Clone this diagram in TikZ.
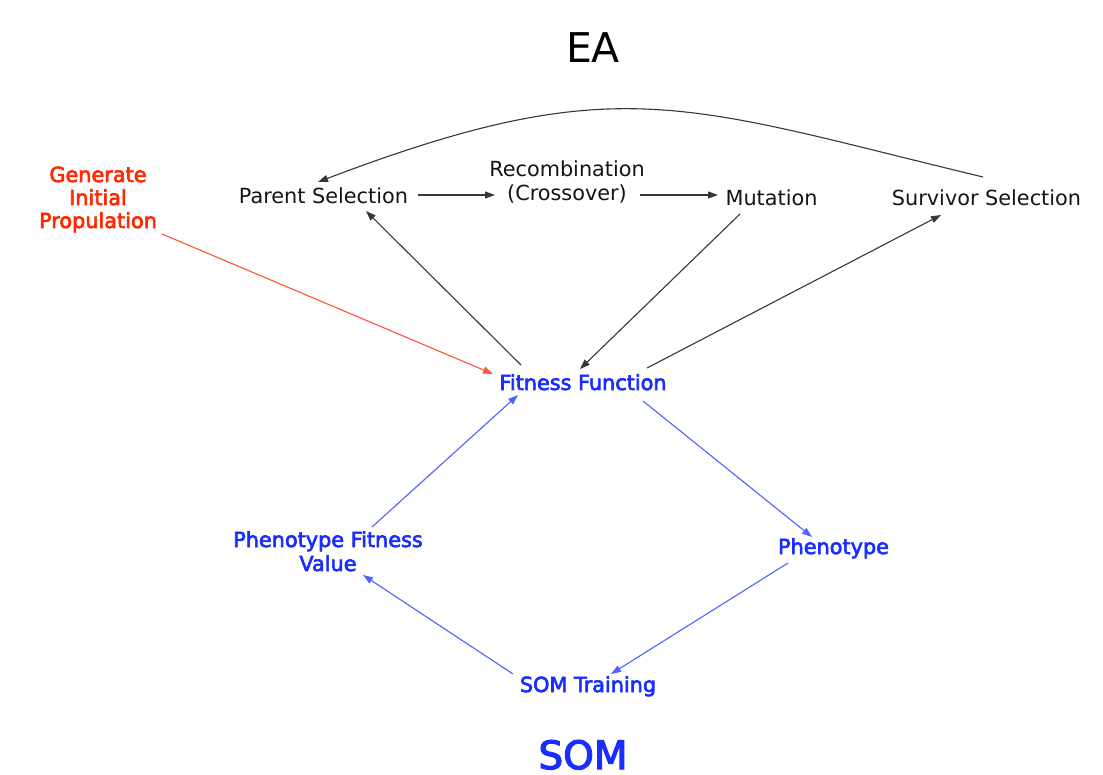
\documentclass[tikz,border=0pt]{standalone}
\usepackage{fontspec}
\setmainfont{DejaVu Sans}
\newfontfamily\fakebold{DejaVu Sans}[FakeBold=3]
\usetikzlibrary{arrows.meta}
\definecolor{eablack}{RGB}{20,20,20}
\definecolor{eagray}{RGB}{55,55,55}
\definecolor{somblue}{RGB}{25,45,255}
\definecolor{somline}{RGB}{80,100,255}
\definecolor{genred}{RGB}{255,40,0}
\definecolor{genline}{RGB}{255,85,55}
\tikzset{
  lbl/.style={inner sep=0pt, anchor=base, align=center, font=\fontsize{20.8}{24}\selectfont, text=eablack},
  somlbl/.style={lbl, font=\fontsize{20.8}{24}\selectfont\fakebold, text=somblue},
  genlbl/.style={lbl, font=\fontsize{20.8}{23}\selectfont\fakebold, text=genred},
  title/.style={inner sep=0pt, anchor=base, font=\fontsize{41}{45}\selectfont},
  tip/.style={-{Triangle[length=10pt,width=7pt]}},
  blackarrow/.style={tip, draw=eagray, line width=1.1pt},
  bluearrow/.style={tip, draw=somline, fill=somline, line width=1.1pt},
  redarrow/.style={tip, draw=genline, line width=1.1pt}
}
\begin{document}
\begin{tikzpicture}[x=1pt,y=-1pt]
\useasboundingbox (0,0) rectangle (1103,775);
\fill[white] (0,0) rectangle (1103,775);

\node[title, text=black] (ea) at (593,63) {EA};
\node[title, text=somblue, font=\fontsize{39}{42}\selectfont\fakebold] (som) at (583,769) {SOM};

% multi-line nodes: base anchor = baseline of last line
\node[genlbl] (gen) at (98,228) {Generate\\Initial\\Propulation};
\node[lbl] (ps) at (323.5,204) {Parent Selection};
\node[lbl] (rc) at (567,201) {Recombination\\(Crossover)};
\node[lbl] (mut) at (771.5,206) {Mutation};
\node[lbl] (ss) at (986.5,206) {Survivor Selection};
\node[somlbl] (ff) at (583,390) {Fitness Function};
\node[somlbl] (pfv) at (328,571) {Phenotype Fitness\\Value};
\node[somlbl] (ph) at (833.5,554) {Phenotype};
\node[somlbl] (somt) at (588,692) {SOM Training};

% EA cycle
\draw[blackarrow] ([shift={(94.5,-9)}]ps.base) -- ([shift={(-72,-6)}]rc.base);
\draw[blackarrow] ([shift={(73,-6)}]rc.base) -- ([shift={(-53.5,-11)}]mut.base);
\draw[blackarrow] ([shift={(-62,-25)}]ff.base) -- ([shift={(42.5,7)}]ps.base);
\draw[blackarrow] ([shift={(-31.5,8)}]mut.base) -- ([shift={(-3,-21)}]ff.base);
\draw[blackarrow] ([shift={(64,-22)}]ff.base) -- ([shift={(-45.5,9)}]ss.base);
\draw[blackarrow] ([shift={(-3.5,-29)}]ss.base) .. controls (683,105) and (618,68) .. ([shift={(-5.5,-22)}]ps.base);

% initialisation
\draw[redarrow] ([shift={(64,6)}]gen.base) -- ([shift={(-90,-16)}]ff.base);

% SOM cycle
\draw[bluearrow] ([shift={(60,11)}]ff.base) -- ([shift={(-21.5,-17)}]ph.base);
\draw[bluearrow] ([shift={(-45.5,9)}]ph.base) -- ([shift={(23,-18)}]somt.base);
\draw[bluearrow] ([shift={(-75,-18)}]somt.base) -- ([shift={(35,4)}]pfv.base);
\draw[bluearrow] ([shift={(44,-44)}]pfv.base) -- ([shift={(-65,5)}]ff.base);
\end{tikzpicture}
\end{document}
